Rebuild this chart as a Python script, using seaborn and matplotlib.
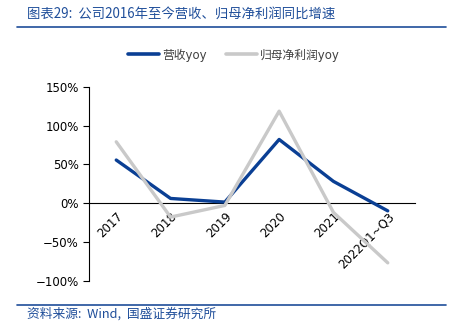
import matplotlib
matplotlib.use("Agg")
import matplotlib.pyplot as plt
import seaborn as sns
import pandas as pd
import numpy as np
from matplotlib.lines import Line2D
from matplotlib.ticker import FixedLocator, PercentFormatter

categories = ["2017", "2018", "2019", "2020", "2021", "2022Q1~Q3"]
revenue_yoy = [55.5, 6.0, 1.3, 82.0, 28.0, -10.0]
netprofit_yoy = [79.0, -18.0, -3.0, 118.5, -12.0, -77.0]
series_names = ["营收yoy", "归母净利润yoy"]
yticks = [-100, -50, 0, 50, 100, 150]

sns.set_theme(style="white")
plt.rcParams["font.family"] = ["DejaVu Sans", "Noto Sans CJK SC"]

df = pd.DataFrame({
    "cat": categories * 2,
    "val": revenue_yoy + netprofit_yoy,
    "series": [series_names[0]] * len(categories) + [series_names[1]] * len(categories),
})

blue = "#0A3F94"
gray = "#C9C9C9"
fig = plt.figure(figsize=(4.5, 3.31), dpi=100)
ax = fig.add_axes([0.198, 0.152, 0.724, 0.586])
sns.lineplot(data=df, x="cat", y="val", hue="series", palette=[blue, gray],
             hue_order=series_names, linewidth=2.4, ax=ax, legend=False, sort=False)

ax.set_xlim(-0.5, len(categories) - 0.5)
ax.set_ylim(-100, 150)
ax.set_yticks(yticks)
ax.yaxis.set_major_formatter(PercentFormatter(decimals=0))
ax.set_xlabel("")
ax.set_ylabel("")
for s in ["top", "right"]:
    ax.spines[s].set_visible(False)
ax.spines["bottom"].set_position(("data", 0))
ax.spines["bottom"].set_color("black")
ax.spines["left"].set_color("black")
ax.spines["bottom"].set_linewidth(0.8)
ax.spines["left"].set_linewidth(0.8)
ax.spines["bottom"].set_zorder(1)

ax.set_xticks(range(len(categories)))
ax.set_xticklabels(categories, rotation=45, ha="right", rotation_mode="anchor",
                   fontsize=8.5, color="black")
ax.xaxis.set_minor_locator(FixedLocator(np.arange(-0.5, len(categories), 1.0)))
ax.tick_params(axis="x", which="major", length=0, pad=5)
ax.tick_params(axis="x", which="minor", length=4, width=0.8, color="black", direction="out")
ax.tick_params(axis="y", which="major", length=4, width=0.8, color="black",
               direction="out", labelsize=8.5, labelcolor="black", left=True)

handles = [Line2D([0], [0], color=blue, lw=2.6), Line2D([0], [0], color=gray, lw=2.6)]
fig.legend(handles, series_names, loc="center", bbox_to_anchor=(0.52, 0.834),
           ncol=2, frameon=False, handlelength=2.6, columnspacing=1.6,
           handletextpad=0.3, labelcolor="#404040",
           prop={"family": ["DejaVu Sans", "Noto Sans CJK SC"], "size": 8.5})

title_color = "#1F4E9A"
fig.text(0.06, 0.958, "图表29:  公司2016年至今营收、归母净利润同比增速", fontsize=9.6,
         color=title_color, style="italic", va="center",
         family=["Noto Sans CJK SC", "DejaVu Sans"])
fig.add_artist(Line2D([0.038, 0.99], [0.918, 0.918], color=title_color, lw=1.2,
                      transform=fig.transFigure))
fig.add_artist(Line2D([0.038, 0.99], [0.079, 0.079], color=title_color, lw=1.2,
                      transform=fig.transFigure))
fig.text(0.06, 0.052, "资料来源:  Wind,  国盛证券研究所", fontsize=9.2,
         color=title_color, style="italic", va="center",
         family=["Noto Sans CJK SC", "DejaVu Sans"])

fig.savefig("out.png", dpi=100)
